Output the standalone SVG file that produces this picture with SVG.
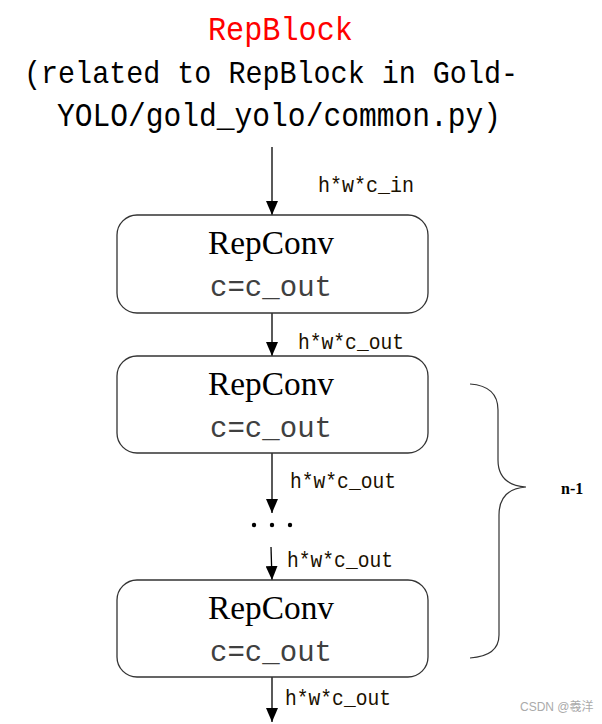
<svg xmlns="http://www.w3.org/2000/svg" width="602" height="724" viewBox="0 0 602 724">
<style>
.title{font-family:"Liberation Mono","DejaVu Sans Mono",monospace;font-size:33px;fill:#000}
.box{fill:#fff;stroke:#333;stroke-width:1.3}
.name{font-family:"Liberation Serif","Times New Roman",serif;font-size:34px;fill:#000}
.sub{font-family:"Liberation Mono",monospace;font-size:30px;fill:#404040}
.lbl{font-family:"Liberation Mono",monospace;font-size:22px;fill:#1a1000}
.edge{stroke:#000;stroke-width:1.3;fill:none}
</style>
<defs>
<marker id="ah" viewBox="0 0 14 12" refX="14" refY="6" markerWidth="14" markerHeight="12" markerUnits="userSpaceOnUse" orient="auto">
<path d="M0,0 L14,6 L0,12 Z" fill="#000"/>
</marker>
</defs>
<rect width="602" height="724" fill="#fff"/>
<g id="title">
<text class="title" x="208" y="40" style="fill:#ff0000" textLength="145" lengthAdjust="spacingAndGlyphs">RepBlock</text>
<text class="title" x="24" y="83" style="font-size:32px" textLength="494" lengthAdjust="spacingAndGlyphs">(related to RepBlock in Gold-</text>
<text class="title" x="57" y="126" textLength="444" lengthAdjust="spacingAndGlyphs">YOLO/gold_yolo/common.py)</text>
</g>
<g id="connectors">
<line class="edge" x1="272" y1="147" x2="272" y2="215" marker-end="url(#ah)"/>
<line class="edge" x1="272" y1="313" x2="272" y2="356" marker-end="url(#ah)"/>
<line class="edge" x1="272" y1="453" x2="272" y2="513" marker-end="url(#ah)"/>
<line class="edge" x1="271" y1="547" x2="272" y2="580" marker-end="url(#ah)"/>
<line class="edge" x1="272" y1="677" x2="272" y2="722" marker-end="url(#ah)"/>
<text class="lbl" x="318" y="192" textLength="96" lengthAdjust="spacingAndGlyphs">h*w*c_in</text>
<text class="lbl" x="298" y="349" textLength="106" lengthAdjust="spacingAndGlyphs">h*w*c_out</text>
<text class="lbl" x="290" y="488" textLength="106" lengthAdjust="spacingAndGlyphs">h*w*c_out</text>
<text class="lbl" x="287" y="567" textLength="106" lengthAdjust="spacingAndGlyphs">h*w*c_out</text>
<text class="lbl" x="285" y="705" textLength="106" lengthAdjust="spacingAndGlyphs">h*w*c_out</text>
</g>
<g id="dots" fill="#000">
<circle cx="254" cy="525" r="2.2"/>
<circle cx="272" cy="525" r="2.2"/>
<circle cx="290" cy="525" r="2.2"/>
</g>
<g id="node1">
<rect class="box" x="117" y="215" width="311" height="98" rx="20"/>
<text class="name" x="208" y="254" textLength="126" lengthAdjust="spacingAndGlyphs">RepConv</text>
<text class="sub" x="210" y="296" textLength="122" lengthAdjust="spacingAndGlyphs">c=c_out</text>
</g>
<g id="node2">
<rect class="box" x="117" y="356" width="311" height="97" rx="20"/>
<text class="name" x="208" y="395" textLength="126" lengthAdjust="spacingAndGlyphs">RepConv</text>
<text class="sub" x="210" y="437" textLength="122" lengthAdjust="spacingAndGlyphs">c=c_out</text>
</g>
<g id="node3">
<rect class="box" x="117" y="580" width="311" height="97" rx="20"/>
<text class="name" x="208" y="619" textLength="126" lengthAdjust="spacingAndGlyphs">RepConv</text>
<text class="sub" x="210" y="661" textLength="122" lengthAdjust="spacingAndGlyphs">c=c_out</text>
</g>
<g id="brace">
<path d="M470,384 Q498,386 498,410 L498,460 Q498,485 526,487 Q499,489 499,515 L499,635 Q499,656 470,658" fill="none" stroke="#333" stroke-width="1.2"/>
<text x="561" y="494" font-family="Liberation Serif,serif" font-weight="bold" font-size="16" fill="#000">n-1</text>
</g>
<text x="520" y="711" font-family="Liberation Sans,'Noto Sans CJK SC',sans-serif" font-size="12" fill="#aaaaaa">CSDN @羲洋</text>
</svg>
